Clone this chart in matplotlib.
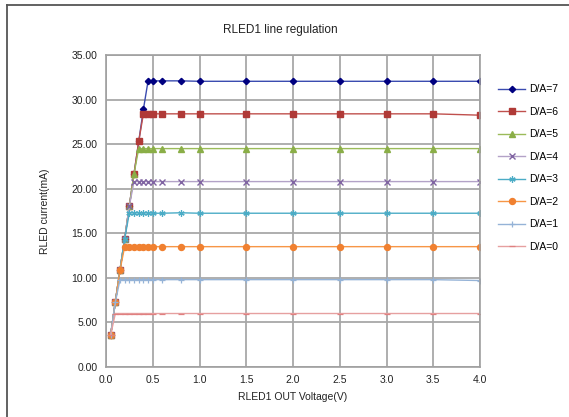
import matplotlib
matplotlib.use("Agg")
import matplotlib.pyplot as plt
from matplotlib.lines import Line2D

plt.rcParams['font.family'] = ['Liberation Sans', 'DejaVu Sans']

x = [0.05, 0.1, 0.15, 0.2, 0.25, 0.3, 0.35, 0.4, 0.45, 0.5, 0.6, 0.8, 1.0, 1.5, 2.0, 2.5, 3.0, 3.5, 4.0]

da7 = [3.6, 7.3, 10.9, 14.4, 18.1, 21.7, 25.3, 28.9, 32.1, 32.1, 32.1, 32.1, 32.05, 32.05, 32.05, 32.05, 32.05, 32.05, 32.05]
da6 = [3.6, 7.3, 10.9, 14.4, 18.1, 21.7, 25.3, 28.4, 28.4, 28.4, 28.4, 28.4, 28.4, 28.4, 28.4, 28.4, 28.4, 28.4, 28.25]
da5 = [3.6, 7.3, 10.9, 14.4, 18.1, 21.7, 24.5, 24.5, 24.5, 24.5, 24.5, 24.5, 24.5, 24.5, 24.5, 24.5, 24.5, 24.5, 24.5]
da4 = [3.6, 7.3, 10.9, 14.4, 18.1, 20.8, 20.8, 20.8, 20.8, 20.8, 20.8, 20.8, 20.8, 20.8, 20.8, 20.8, 20.8, 20.8, 20.8]
da3 = [3.6, 7.3, 10.9, 14.4, 17.3, 17.3, 17.3, 17.3, 17.3, 17.25, 17.25, 17.3, 17.25, 17.25, 17.25, 17.25, 17.25, 17.25, 17.25]
da2 = [3.6, 7.3, 10.9, 13.5, 13.5, 13.5, 13.5, 13.5, 13.5, 13.5, 13.5, 13.5, 13.5, 13.5, 13.5, 13.5, 13.5, 13.5, 13.5]
da1 = [3.6, 7.3, 9.8, 9.8, 9.8, 9.8, 9.8, 9.8, 9.8, 9.8, 9.8, 9.8, 9.8, 9.8, 9.8, 9.8, 9.8, 9.8, 9.7]
da0 = [3.6, 6.0, 6.0, 6.0, 6.0, 6.0, 6.0, 6.0, 6.0, 6.0, 6.0, 6.0, 6.0, 6.0, 6.0, 6.0, 6.0, 6.0, 6.0]

labels = ["D/A=7", "D/A=6", "D/A=5", "D/A=4", "D/A=3", "D/A=2", "D/A=1", "D/A=0"]
series = [da7, da6, da5, da4, da3, da2, da1, da0]

xticks = [0.0, 0.5, 1.0, 1.5, 2.0, 2.5, 3.0, 3.5, 4.0]
yticks = [0, 5, 10, 15, 20, 25, 30, 35]

styles = [
    dict(color='#3a4bb0', marker='D', ms=3.2, mfc='#000080', mec='#000080'),
    dict(color='#c0504d', marker='s', ms=4.3, mfc='#b03a37', mec='#b03a37'),
    dict(color='#9bbb59', marker='^', ms=4.3, mfc='#8aae47', mec='#8aae47'),
    dict(color='#b3a2c7', marker='x', ms=4, mfc='#8064a2', mec='#8064a2', mew=1.0),
    dict(color='#4bacc6', marker=(6, 2, 0), ms=4.5, mfc='#4bacc6', mec='#4bacc6', mew=0.9),
    dict(color='#f79646', marker='o', ms=4.3, mfc='#f08030', mec='#f08030'),
    dict(color='#95b3d7', marker='+', ms=4, mfc='#95b3d7', mec='#95b3d7', mew=0.9),
    dict(color='#e6a0a0', marker='_', ms=4, mfc='#e08080', mec='#e08080', mew=0.9),
]

fig = plt.figure(figsize=(5.69, 4.17), dpi=100)
ax = fig.add_axes([106/569, 1-367/417, (480-106)/569, (367-55)/417])

for y, lab, st in zip(series, labels, styles):
    ax.plot(x, y, label=lab, lw=1.0, **st)

ax.set_xlim(0, 4.0)
ax.set_ylim(0, 35)
ax.set_xticks(xticks)
ax.set_xticklabels([f"{v:.1f}" for v in xticks])
ax.set_yticks(yticks)
ax.set_yticklabels([f"{v:.2f}" for v in yticks])
ax.tick_params(length=0, labelsize=7.5, colors='#222222', pad=6)
ax.grid(True, color='#a8a8a8', lw=1.3)
ax.set_axisbelow(True)
for s in ax.spines.values():
    s.set_color('#a0a0a0')
    s.set_linewidth(1.2)

ax.set_xlabel("RLED1 OUT Voltage(V)", fontsize=7.5, color='#222222', labelpad=5)
fig.text(45/569, 1-211/417, "RLED current(mA)", rotation=90, fontsize=7.5,
         color='#222222', ha='center', va='center')
fig.text(280/569, 1-30/417, "RLED1 line regulation", fontsize=8.5, color='#222222',
         ha='center', va='center')

leg = ax.legend(loc='upper left', bbox_to_anchor=(494/569, 1-80/417),
                bbox_transform=fig.transFigure, frameon=False, fontsize=7.5,
                handlelength=2.6, labelspacing=1.2, handletextpad=0.4,
                borderaxespad=0)

# outer chart frame
fig.add_artist(Line2D([7/569, 7/569], [0, 1-5/417], transform=fig.transFigure,
                      color='#555555', lw=1.3))
fig.add_artist(Line2D([7/569, 1], [1-5/417, 1-5/417], transform=fig.transFigure,
                      color='#555555', lw=1.3))

fig.savefig("out.png", dpi=100)
